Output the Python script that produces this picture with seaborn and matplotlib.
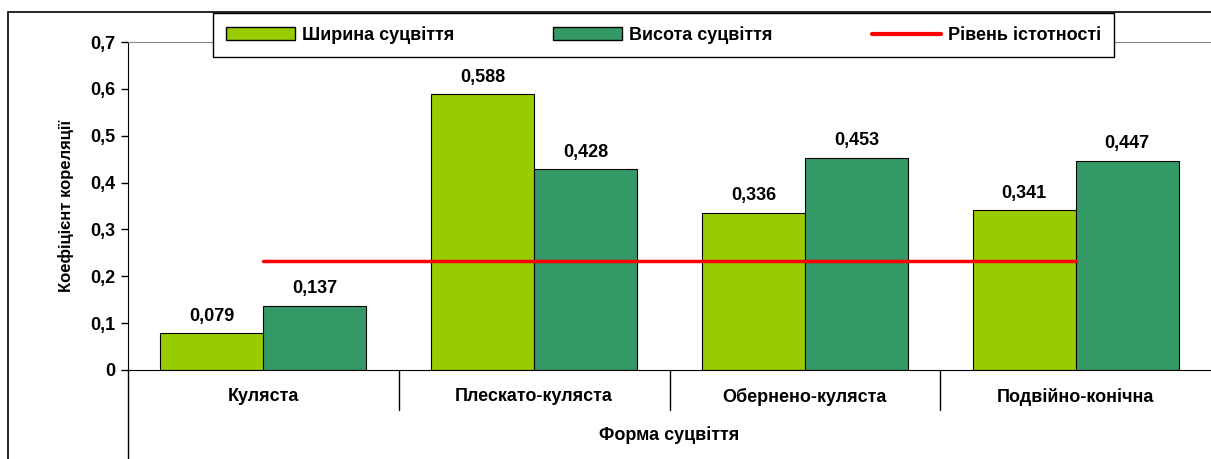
import matplotlib
matplotlib.use("Agg")
import matplotlib.pyplot as plt
import seaborn as sns
import pandas as pd
from matplotlib.lines import Line2D
from matplotlib.patches import Patch, Rectangle

categories = ["Куляста", "Плескато-куляста", "Обернено-куляста", "Подвійно-конічна"]
width_vals = [0.079, 0.588, 0.336, 0.341]
height_vals = [0.137, 0.428, 0.453, 0.447]
series = ["Ширина суцвіття", "Висота суцвіття"]
significance = 0.232
colors = ["#99CC00", "#339966"]

df = pd.DataFrame({
    "cat": categories * 2,
    "val": width_vals + height_vals,
    "ser": [series[0]] * 4 + [series[1]] * 4,
})

sns.set_style("white")
plt.rcParams["font.family"] = ["Liberation Sans", "DejaVu Sans"]
plt.rcParams["font.weight"] = "bold"
plt.rcParams["text.color"] = "black"
plt.rcParams["axes.labelcolor"] = "black"
plt.rcParams["ytick.color"] = "black"

fig = plt.figure(figsize=(12.11, 4.59), dpi=100)
ax = fig.add_axes([128 / 1211, 1 - 370 / 459, 1 - 128 / 1211, 328 / 459])
sns.barplot(data=df, x="cat", y="val", hue="ser", palette=colors, width=0.76,
            saturation=1, edgecolor="black", linewidth=0.8, ax=ax, legend=False)
ax.plot([0, 3], [significance, significance], color="red", lw=2.5)

for cont in ax.containers:
    ax.bar_label(cont, labels=[f"{v:.3f}".replace(".", ",") for v in cont.datavalues],
                 padding=6, fontsize=13, fontweight="bold", color="black")

ax.set_xlim(-0.5, 3.5)
ax.set_ylim(0, 0.7)
ax.set_yticks([i / 10 for i in range(8)])
ax.set_yticklabels(["0"] + [f"0,{i}" for i in range(1, 8)], fontsize=13, fontweight="bold")
ax.tick_params(axis="y", length=5, width=1, direction="out", left=True, pad=4, colors="black")
ax.set_xticks([])
ax.set_xlabel("")
ax.set_ylabel("Коефіцієнт кореляції", fontsize=12, fontweight="bold", labelpad=12)
ax.spines["right"].set_visible(False)
ax.spines["top"].set_color("#888888")
ax.spines["bottom"].set_color("black")
ax.spines["left"].set_color("black")

# category labels and separators below the axis
for i, c in enumerate(categories):
    ax.text(i, -0.057, c, ha="center", va="center", fontsize=13, fontweight="bold",
            clip_on=False)
for b in [0.5, 1.5, 2.5]:
    ax.plot([b, b], [0, -0.085], color="black", lw=1, clip_on=False)
ax.plot([-0.5, -0.5], [0, -0.2], color="black", lw=1, clip_on=False)
ax.text(1.5, -0.14, "Форма суцвіття", ha="center", va="center", fontsize=13,
        fontweight="bold", clip_on=False)

# outer frame
fig.patches.append(Rectangle((8 / 1211, -0.01), 1.2, 1 - 12 / 459 + 0.01, transform=fig.transFigure,
                             fill=False, edgecolor="black", lw=1.2))

handles = [Patch(facecolor=colors[0], edgecolor="black"),
           Patch(facecolor=colors[1], edgecolor="black"),
           Line2D([0], [0], color="red", lw=3)]
leg = fig.legend(handles, series + ["Рівень істотності"], ncol=3, loc="center",
                 bbox_to_anchor=((172 + 1155) / 2 / 1211, 1 - 35 / 459),
                 prop={"family": "Liberation Sans", "weight": "bold", "size": 13},
                 frameon=True, fancybox=False, edgecolor="black", framealpha=1,
                 columnspacing=5.5, handlelength=3.8, handleheight=0.7, handletextpad=0.4,
                 borderpad=0.75, borderaxespad=0)
leg.get_frame().set_linewidth(1)

fig.savefig("out.png", dpi=100)
